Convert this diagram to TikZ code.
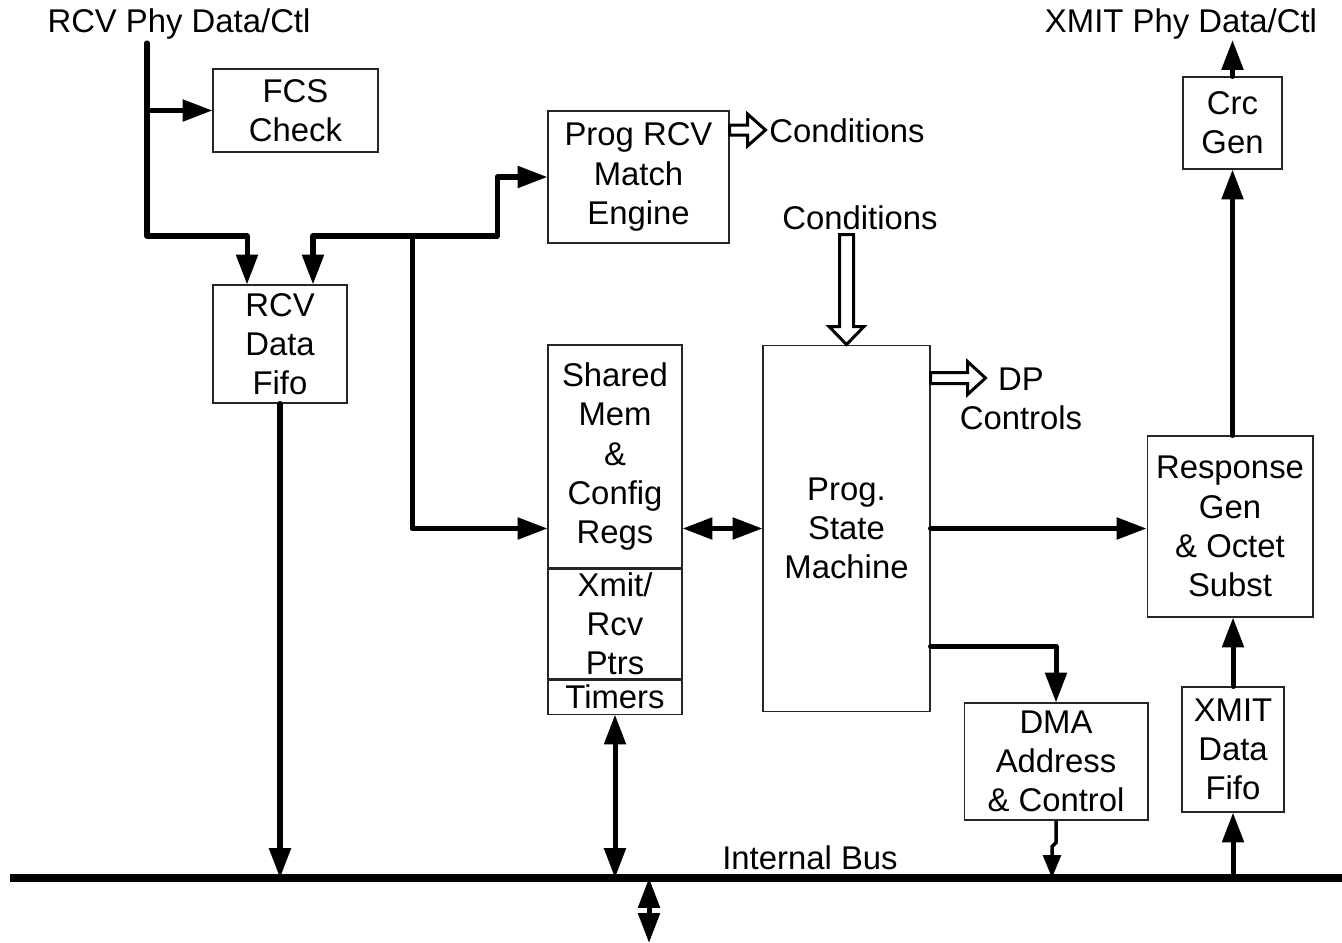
\documentclass[tikz,border=0pt]{standalone}
\usepackage{fontspec}
\setmainfont{Liberation Sans}
\usetikzlibrary{arrows.meta}
\usetikzlibrary{positioning}

\begin{document}
\begin{tikzpicture}[x=0.02cm,y=-0.02cm,>={Triangle[length=17pt,width=12pt]},
  font=\fontsize{18.7pt}{22.3pt}\selectfont,
  blk/.style={draw=black!85,line width=0.6pt,inner sep=0pt,align=center},
  lbl/.style={inner sep=0pt,align=center},
  wire/.style={line width=2.85pt,line join=round,line cap=round},
  hollow/.style={draw,line width=1.7pt,fill=white,line join=miter}]
\useasboundingbox (0,0) rectangle (1342,943);
% blocks
\node[blk,minimum width=3.3cm,minimum height=1.66cm] (fcs) at (295.5,110.5) {FCS\\Check};
\node[blk,minimum width=2.68cm,minimum height=2.36cm] (rfifo) at (280,344) {RCV\\Data\\Fifo};
\node[blk,minimum width=3.62cm,minimum height=2.64cm] (match) at (638.5,177) {Prog RCV\\Match\\Engine};
\node[blk,minimum width=2.68cm,minimum height=4.46cm] (shared) at (615,456.5) {Shared\\Mem\\\&\\Config\\Regs};
\node[blk,minimum width=2.68cm,minimum height=2.2cm,below=0pt of shared] (ptrs) {Xmit/\\Rcv\\Ptrs};
\node[blk,minimum width=2.68cm,minimum height=0.68cm,below=0pt of ptrs] (timers) {Timers};
\node[blk,minimum width=3.34cm,minimum height=7.34cm] (psm) at (846.5,528.5) {Prog.\\State\\Machine};
\node[blk,minimum width=3.68cm,minimum height=2.34cm] (dma) at (1056,761.5) {DMA\\Address\\\& Control};
\node[blk,minimum width=2.04cm,minimum height=2.5cm] (xfifo) at (1233,749.5) {XMIT\\Data\\Fifo};
\node[blk,minimum width=3.32cm,minimum height=3.62cm] (resp) at (1230,526.5) {Response\\Gen\\\& Octet\\Subst};
\node[blk,minimum width=1.98cm,minimum height=1.84cm] (crc) at (1232.5,123) {Crc\\Gen};
% labels
\node[lbl] (rcvlbl) at (179,24) {RCV Phy Data/Ctl};
\node[lbl] (xmitlbl) at (1181,24) {XMIT Phy Data/Ctl};
\node[lbl,anchor=west] (condA) at (769,131) {Conditions};
\node[lbl] (condB) at (860,218) {Conditions};
\node[lbl] (dpctl) at (1021,399) {DP\\Controls};
\node[lbl] (buslbl) at (810,858) {Internal Bus};
\coordinate (rin) at (147,43);
\coordinate (j1) at (147,236);
\coordinate (j2) at (412,236);
\coordinate (xout) at (1233,40);
\coordinate (ext) at (649,943);
\coordinate (busL) at (10,878);
\coordinate (busR) at (1342,878);
% receive side
\draw[wire,->] (rin |- fcs.west) -- (fcs.west);
\draw[wire,->] (rin) -- (j1) -| ([xshift=-0.66cm]rfifo.north);
\draw[wire,->] (j2) -| ([xshift=0.66cm]rfifo.north);
\draw[wire,->] (j2) -- (497,236) |- (match.west);
\draw[wire,->] (j2) |- (shared.west |- psm.west);
\draw[wire,<->] (shared.east |- psm.west) -- (psm.west);
\draw[wire,->] (rfifo.south) -- (rfifo.south |- busL);
\draw[wire,<->] (timers.south) -- (timers.south |- busL);
% hollow arrows
\draw[hollow] ([yshift=0.94cm]match.east) -- ++(0,-5) -- ++(18,0) -- ++(0,-11) -- ++(18,16) -- ++(-18,16) -- ++(0,-11) -- ++(-18,0) -- cycle;
\draw[hollow] (psm.north) -- ++(-17.5,-18) -- ++(10.5,0) -- ++(0,-92) -- ++(14,0) -- ++(0,92) -- ++(10.5,0) -- cycle;
\draw[hollow] ([yshift=3.01cm]psm.east) -- ++(0,-5.5) -- ++(37,0) -- ++(0,-11) -- ++(18,16.5) -- ++(-18,16.5) -- ++(0,-11) -- ++(-37,0) -- cycle;
% transmit side
\draw[wire,->] (psm.east) -- (resp.west |- psm.east);
\draw[wire,->] ([yshift=-2.36cm]psm.east) -| (dma.north);
\draw[line width=2pt,-{Triangle[length=13pt,width=10pt]}] (dma.south) -- ++(0,22) -- ++(-4,4) coordinate (dj) -- (dj |- busL);
\draw[wire,->] (xfifo.south |- busL) -- (xfifo.south);
\draw[wire,->] (xfifo.north) -- (xfifo.north |- resp.south);
\draw[wire,->] (crc.south |- resp.north) -- (crc.south);
\draw[wire,->] (crc.north) -- (crc.north |- xout);
% bus
\draw[line width=4pt] (busL) -- (busR);
\draw[wire,<->] (ext |- busL) -- (ext);
\end{tikzpicture}
\end{document}
